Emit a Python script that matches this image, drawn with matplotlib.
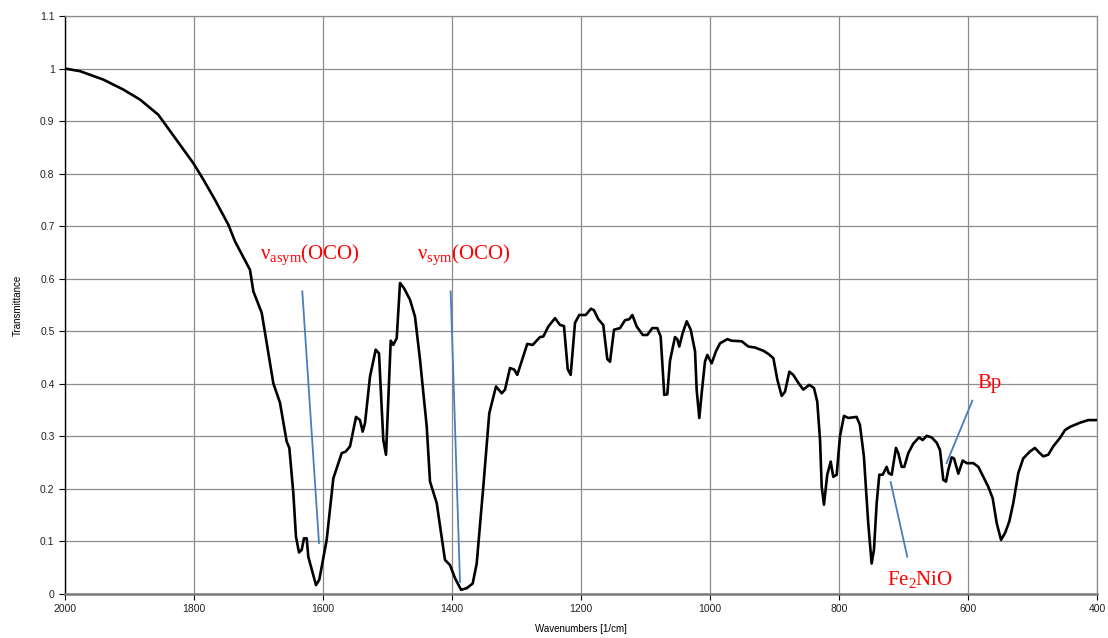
import matplotlib.pyplot as plt
from matplotlib.ticker import FuncFormatter

# IR spectrum
wavenumber = [2000, 1976.7, 1940.6, 1909.6, 1883.7, 1855.3, 1842.3, 1821.7, 1801.1, 1785.6,
              1767.4, 1746.8, 1736.4, 1715.8, 1713.2, 1708.0, 1695.0, 1677.0, 1666.7, 1656.3,
              1652.2, 1646.0, 1641.9, 1637.2, 1633.0, 1629.5, 1625.3, 1622.8, 1610.9, 1605.8,
              1594.3, 1584.0, 1571.0, 1564.8, 1558.1, 1548.8, 1542.6, 1538.5, 1534.9, 1527.1,
              1518.3, 1513.2, 1506.5, 1502.3, 1495.0, 1491.0, 1485.7, 1480.6, 1474.4, 1465.1,
              1457.4, 1449.6, 1439.2, 1434.1, 1423.7, 1410.9, 1403.1, 1395.3, 1386.0, 1377.2,
              1367.9, 1361.7, 1351.5, 1342.2, 1331.8, 1322.9, 1317.8, 1310.1, 1303.4, 1298.8,
              1283.3, 1274.9, 1263.6, 1258.4, 1250.7, 1240.3, 1232.6, 1226.4, 1220.6, 1216.0,
              1209.3, 1202.7, 1192.7, 1184.5, 1179.9, 1173.2, 1165.5, 1159.2, 1155.0, 1148.8,
              1139.5, 1131.8, 1125.1, 1120.4, 1113.6, 1104.3, 1097.2, 1089.5, 1081.7, 1076.5,
              1070.9, 1066.2, 1062.0, 1054.3, 1050.7, 1047.6, 1042.3, 1036.1, 1029.9, 1023.2,
              1020.7, 1016.6, 1012.9, 1007.8, 1004.2, 997.4, 990.7, 984.5, 973.2, 966.4,
              950.9, 940.6, 930.2, 917.4, 909.6, 901.8, 895.6, 888.9, 883.7, 877.0,
              870.9, 863.1, 855.4, 846.1, 838.8, 833.7, 829.4, 826.8, 823.3, 818.2,
              812.9, 808.9, 803.6, 798.5, 792.3, 785.6, 772.7, 767.6, 761.4, 754.7,
              749.4, 745.8, 741.6, 737.5, 732.3, 726.1, 723.0, 718.3, 711.7, 708.1,
              702.9, 698.8, 692.6, 684.9, 676.0, 670.3, 664.1, 656.4, 648.6, 643.4,
              638.3, 634.1, 630.6, 625.3, 621.7, 615.0, 608.2, 602.0, 591.7, 584.0,
              576.2, 568.5, 561.7, 555.5, 548.8, 542.6, 536.0, 529.8, 522.1, 514.4,
              504.1, 496.3, 491.1, 483.4, 475.6, 467.8, 457.4, 449.6, 441.9, 434.1,
              426.4, 413.5, 400.5]
transmittance = [1.000, 0.995, 0.979, 0.960, 0.941, 0.912, 0.890, 0.855, 0.820, 0.789,
                 0.750, 0.703, 0.671, 0.623, 0.617, 0.576, 0.535, 0.401, 0.364, 0.290,
                 0.278, 0.192, 0.109, 0.079, 0.084, 0.106, 0.106, 0.071, 0.017, 0.027,
                 0.103, 0.220, 0.268, 0.271, 0.281, 0.337, 0.331, 0.309, 0.325, 0.414,
                 0.465, 0.458, 0.293, 0.265, 0.482, 0.474, 0.487, 0.592, 0.582, 0.560,
                 0.528, 0.446, 0.319, 0.214, 0.173, 0.065, 0.055, 0.030, 0.008, 0.011,
                 0.020, 0.058, 0.204, 0.344, 0.395, 0.382, 0.389, 0.430, 0.427, 0.417,
                 0.476, 0.474, 0.489, 0.490, 0.509, 0.525, 0.512, 0.510, 0.428, 0.417,
                 0.516, 0.531, 0.531, 0.543, 0.540, 0.523, 0.512, 0.447, 0.442, 0.503,
                 0.506, 0.521, 0.523, 0.531, 0.509, 0.493, 0.493, 0.506, 0.506, 0.490,
                 0.379, 0.380, 0.444, 0.489, 0.485, 0.471, 0.497, 0.519, 0.503, 0.462,
                 0.389, 0.335, 0.382, 0.442, 0.455, 0.439, 0.462, 0.477, 0.485, 0.482,
                 0.481, 0.471, 0.469, 0.463, 0.457, 0.449, 0.408, 0.377, 0.385, 0.423,
                 0.417, 0.402, 0.389, 0.398, 0.392, 0.366, 0.293, 0.204, 0.170, 0.227,
                 0.252, 0.223, 0.227, 0.300, 0.339, 0.335, 0.337, 0.322, 0.262, 0.135,
                 0.058, 0.084, 0.173, 0.227, 0.227, 0.242, 0.230, 0.227, 0.278, 0.268,
                 0.242, 0.242, 0.268, 0.286, 0.298, 0.293, 0.301, 0.298, 0.288, 0.274,
                 0.217, 0.214, 0.236, 0.260, 0.258, 0.229, 0.254, 0.249, 0.249, 0.242,
                 0.223, 0.204, 0.182, 0.135, 0.103, 0.116, 0.138, 0.173, 0.230, 0.258,
                 0.271, 0.278, 0.271, 0.262, 0.265, 0.281, 0.297, 0.312, 0.318, 0.322,
                 0.326, 0.331, 0.331]

# band labels: text, text position, pointer line start and end
labels = [r'$\mathregular{\nu_{asym}}$(OCO)', r'$\mathregular{\nu_{sym}}$(OCO)', r'Fe$\mathregular{_2}$NiO', 'Bp']
label_pos = [(1697.7, 0.646), (1454.8, 0.646), (726.1, 0.027), (585.0, 0.401)]
pointer_start = [(1632.1, 0.576), (1402.1, 0.576), (719.9, 0.213), (633.3, 0.249)]
pointer_end = [(1606.2, 0.097), (1387.6, 0.023), (694.2, 0.071), (593.3, 0.368)]

plt.rcParams['font.family'] = ['Liberation Sans', 'DejaVu Sans']

fig = plt.figure(figsize=(11.08, 6.38), dpi=100)
ax = fig.add_axes([65 / 1108, 1 - 594 / 638, 1032 / 1108, 578 / 638])

ax.plot(wavenumber, transmittance, color='black', linewidth=1.9, zorder=3)

for s, e in zip(pointer_start, pointer_end):
    ax.plot([s[0], e[0]], [s[1], e[1]], color='#4a7ebb', linewidth=1.3, zorder=4)

for txt, (x, y) in zip(labels, label_pos):
    ax.text(x, y, txt, color='red', fontsize=15, family=['Liberation Serif', 'DejaVu Serif'],
            ha='left', va='center', zorder=5)

ax.set_xlim(2000, 400)
ax.set_ylim(0, 1.1)
ax.set_xticks(range(2000, 399, -200))
ax.set_yticks([i / 10 for i in range(12)])
ax.yaxis.set_major_formatter(FuncFormatter(lambda v, p: f'{v:g}'))

ax.grid(True, color='#8c8c8c', linewidth=0.9)
ax.set_axisbelow(True)
for side in ['top', 'right']:
    ax.spines[side].set_color('#8c8c8c')
    ax.spines[side].set_linewidth(0.9)
ax.spines['bottom'].set_color('#7a7a7a')
ax.spines['bottom'].set_linewidth(1.8)
ax.spines['left'].set_color('black')
ax.spines['left'].set_linewidth(1.0)

ax.tick_params(axis='both', labelsize=7.5, length=4, width=0.8, colors='black', labelcolor='#222222')
ax.set_xlabel('Wavenumbers [1/cm]', fontsize=7, labelpad=7)
ax.set_ylabel('Transmittance', fontsize=7, labelpad=12)

fig.savefig('out.png', dpi=100)
